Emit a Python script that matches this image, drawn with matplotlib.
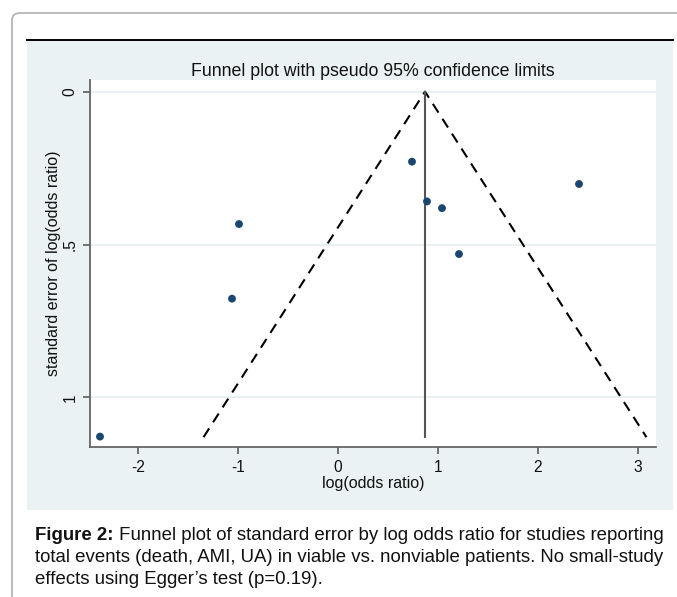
import numpy as np
import matplotlib
matplotlib.use("Agg")
import matplotlib.pyplot as plt
from matplotlib.patches import FancyBboxPatch, Rectangle
from matplotlib.lines import Line2D

plt.rcParams['font.family'] = ['Liberation Sans', 'DejaVu Sans']

# study estimates
log_or = [-2.38, -0.99, -1.06, 0.74, 0.89, 1.04, 1.21, 2.41]
se_log_or = [1.128, 0.433, 0.677, 0.229, 0.359, 0.381, 0.531, 0.302]
pooled = 0.87
max_se = 1.13

xticks = [-2, -1, 0, 1, 2, 3]
yticks = [0, 0.5, 1]
ytick_labels = ['0', '.5', '1']

title = 'Funnel plot with pseudo 95% confidence limits'
xlabel = 'log(odds ratio)'
ylabel = 'standard error of log(odds ratio)'
cap_bold = 'Figure 2:'
cap_lines = [' Funnel plot of standard error by log odds ratio for studies reporting',
             'total events (death, AMI, UA) in viable vs. nonviable patients. No small-study',
             'effects using Egger\u2019s test (p=0.19).']

W, H = 677, 597
fig = plt.figure(figsize=(W / 100, H / 100), dpi=100)
fig.patch.set_facecolor('white')

def fx(px):
    return px / W

def fy(py):
    return 1 - py / H

# outer page frame
frame = FancyBboxPatch((fx(12), fy(640)), fx(700), 627 / H,
                       boxstyle='round,pad=0,rounding_size=0.012',
                       transform=fig.transFigure, fill=False,
                       edgecolor='#b5b5b5', lw=1.3, clip_on=False, zorder=-2)
fig.add_artist(frame)

# graph region background and top rule
fig.add_artist(Rectangle((fx(27), fy(510)), fx(646), 469 / H,
                         transform=fig.transFigure, facecolor='#eaf2f3',
                         edgecolor='none', zorder=-1))
fig.add_artist(Line2D([fx(27), fx(673)], [fy(40), fy(40)],
                      transform=fig.transFigure, color='black', lw=1.4))

ax = fig.add_axes([fx(90), fy(447), fx(566), 367 / H])
ax.set_zorder(3)
ax.set_facecolor('white')

ax.set_xlim(-2.48, 3.18)
ax.set_ylim(1.162, -0.038)

for v in yticks:
    ax.axhline(v, color='#e6eef0', lw=1.2, zorder=0)

# pseudo 95% limits
ax.plot([pooled - 1.96 * max_se, pooled, pooled + 1.96 * max_se],
        [max_se, 0, max_se], color='black', lw=1.5, ls=(0, (5, 3.5)), zorder=2)
ax.plot([pooled, pooled], [0, max_se], color='#555555', lw=1.5, zorder=2)

ax.scatter(log_or, se_log_or, s=32, color='#1a476f', edgecolor='none', zorder=3)

for s in ['top', 'right']:
    ax.spines[s].set_visible(False)
for s in ['left', 'bottom']:
    ax.spines[s].set_color('#666666')
    ax.spines[s].set_linewidth(1.3)

ax.set_xticks(xticks)
ax.set_xticklabels([str(t) for t in xticks])
ax.set_yticks(yticks)
ax.set_yticklabels(ytick_labels, rotation=90, va='center')
ax.tick_params(axis='both', direction='out', length=5, width=1.3,
               color='#666666', labelsize=11.2, labelcolor='#111111', pad=4)

ax.set_xlabel(xlabel, fontsize=11.5, color='#111111', labelpad=1)
ax.set_ylabel(ylabel, fontsize=11.5, color='#111111', labelpad=1)
ax.set_title(title, fontsize=12.8, color='#111111', pad=3)

# caption with bold lead
fig.canvas.draw()
renderer = fig.canvas.get_renderer()
cap_size = 13.4
t0 = fig.text(fx(35), fy(536), cap_bold, fontsize=cap_size, fontweight='bold',
              va='center', ha='left', color='#111111')
bb = t0.get_window_extent(renderer)
fig.text(bb.x1 / W, fy(536), cap_lines[0], fontsize=cap_size, va='center',
         ha='left', color='#111111')
for i, line in enumerate(cap_lines[1:]):
    fig.text(fx(35), fy(558 + 22 * i), line, fontsize=cap_size, va='center',
             ha='left', color='#111111')

fig.savefig('out.png', dpi=100)
